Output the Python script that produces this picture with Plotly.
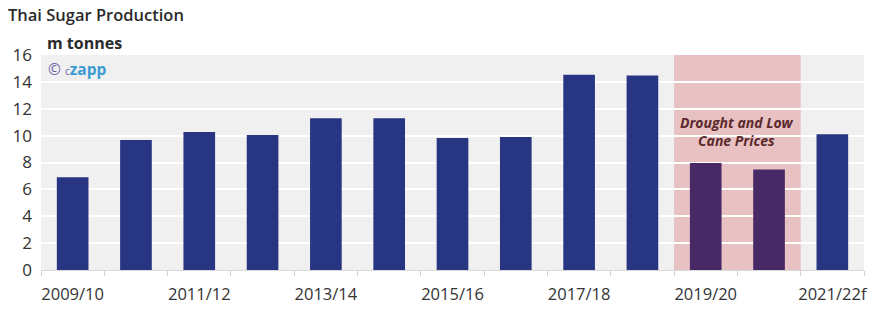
import plotly.graph_objects as go

categories = ["2009/10", "2010/11", "2011/12", "2012/13", "2013/14", "2014/15",
              "2015/16", "2016/17", "2017/18", "2018/19", "2019/20", "2020/21", "2021/22f"]
production = [6.9, 9.67, 10.27, 10.05, 11.3, 11.3, 9.82, 9.9, 14.53, 14.48, 7.96, 7.47, 10.1]
drought_seasons = ["2019/20", "2020/21"]
y_ticks = list(range(0, 17, 2))

BLUE = "#283582"
PURPLE = "#472a65"
PINK = "#e8c1c2"
FONT = "Open Sans"

colors = [PURPLE if c in drought_seasons else BLUE for c in categories]
ticktext = [c if i % 2 == 0 else "" for i, c in enumerate(categories)]

fig = go.Figure()
fig.add_trace(go.Bar(x=categories, y=production, marker=dict(color=colors, line=dict(width=0)),
                     width=0.5, hoverinfo="x+y"))

i0 = categories.index(drought_seasons[0])
i1 = categories.index(drought_seasons[-1])
fig.add_shape(type="rect", xref="x", yref="y", x0=i0 - 0.5, x1=i1 + 0.5, y0=0, y1=16,
              fillcolor=PINK, line=dict(width=0), layer="below")

fig.add_annotation(x=(i0 + i1) / 2, y=10.3, xref="x", yref="y",
                   text="<b><i>Drought and Low<br>Cane Prices</i></b>", showarrow=False,
                   font=dict(family=FONT, size=14, color="#5a2a2c"), yanchor="middle")

fig.add_annotation(x=(45 - 41) / 823, y=(270 - 43) / 215, xref="paper", yref="paper",
                   text="<b>m tonnes</b>", showarrow=False, xanchor="left", yanchor="middle",
                   font=dict(family=FONT, size=16, color="#2a2a2a"))
fig.add_annotation(x=(46 - 41) / 823, y=(270 - 69) / 215, xref="paper", yref="paper",
                   text="<span style='color:#6a5fa8'>©</span> <span style='font-size:10px;color:#6a5fa8'>c</span><b>zapp</b>",
                   showarrow=False, xanchor="left", yanchor="middle",
                   font=dict(family=FONT, size=15.5, color="#3b9bd3"))

fig.update_layout(
    width=886, height=318,
    margin=dict(l=41, r=22, t=55, b=48),
    paper_bgcolor="white", plot_bgcolor="#f0f0f0",
    showlegend=False,
    bargap=0.5,
    font=dict(family=FONT, color="#333333"),
    title=dict(text="Thai Sugar Production", x=8 / 886, xanchor="left", xref="container",
               y=1 - 15 / 318, yanchor="middle", yref="container",
               font=dict(family=FONT, size=16.5, color="#2a2a2a", weight=600)),
)
fig.update_xaxes(type="category", tickvals=categories, ticktext=ticktext, tickson="boundaries",
                 tickangle=0, ticklabelstandoff=9,
                 ticks="outside", ticklen=5, tickcolor="#d0d0d0", showline=True, linecolor="#d8d8d8",
                 showgrid=False, tickfont=dict(family=FONT, size=16.5, color="#333333"),
                 range=[-0.5, len(categories) - 0.5])
fig.update_yaxes(range=[0, 16], tickvals=y_ticks, showgrid=True, gridcolor="white", gridwidth=1.5,
                 zeroline=False, tickfont=dict(family=FONT, size=17, color="#333333"), ticks="",
                 ticklabelstandoff=8)

fig.write_html("out.html")
